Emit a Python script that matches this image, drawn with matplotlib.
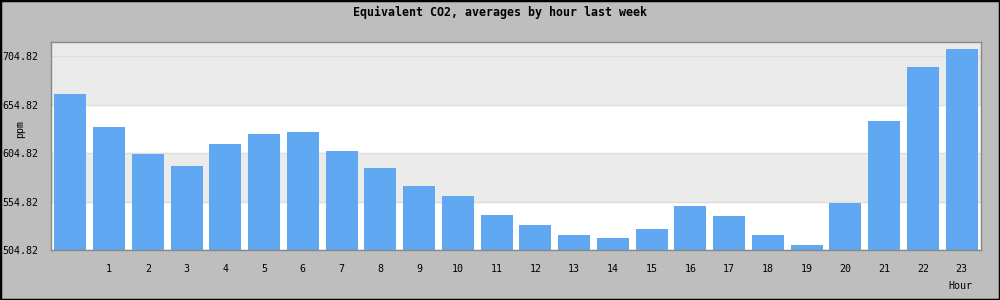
import numpy as np
import matplotlib.pyplot as plt
from matplotlib.patches import Rectangle

hours = list(range(24))
co2 = [666.2, 632.4, 604.5, 591.7, 614.5, 624.8, 626.9, 607.3,
       589.7, 571.0, 560.7, 541.0, 530.7, 520.3, 517.2, 526.5,
       550.3, 540.0, 520.3, 510.0, 553.4, 638.3, 694.2, 712.8]
xlabels = [""] + [str(h) for h in hours[1:]]
yticks = [504.82, 554.82, 604.82, 654.82, 704.82]

mono = "DejaVu Sans Mono"

fig = plt.figure(figsize=(10, 3), dpi=100, facecolor="#bebebe")
ax = fig.add_axes([0.051, 0.1667, 0.930, 0.6933])
ax.set_facecolor("white")

ymin, ymax = 504.82, 719.8
ax.axhspan(554.82, 604.82, color="#ebebeb", zorder=0)
ax.axhspan(654.82, ymax, color="#ebebeb", zorder=0)
for y in yticks:
    ax.axhline(y, color="#dedede", lw=1, zorder=1)

ax.bar(hours, co2, width=0.83, color="#60a8f2", zorder=2)

ax.set_xlim(-0.5, 23.5)
ax.set_ylim(ymin, ymax)
ax.set_xticks(hours)
ax.set_xticklabels(xlabels, fontfamily=mono, fontsize=7.2)
ax.set_yticks(yticks)
ax.set_yticklabels(["%.2f" % v for v in yticks], fontfamily=mono, fontsize=7.2)
ax.tick_params(axis="x", length=0, pad=10)
ax.tick_params(axis="y", length=0, pad=9)

for s in ax.spines.values():
    s.set_color("#888888")
    s.set_linewidth(1)

fig.text(0.5, 0.957, "Equivalent CO2, averages by hour last week",
         ha="center", va="center", fontfamily=mono, fontsize=8.4, fontweight="bold")
fig.text(0.96, 0.047, "Hour", ha="center", va="center", fontfamily=mono, fontsize=7.2)
# ppm sits just above the 604.82 label so the two do not collide
fig.text(0.02, 0.57, "ppm", ha="center", va="center", rotation=90,
         fontfamily=mono, fontsize=7.2)

fig.patches.append(Rectangle((0, 0), 1, 1, transform=fig.transFigure,
                             fill=False, edgecolor="black", lw=2.5))

fig.savefig("out.png", dpi=100, facecolor=fig.get_facecolor())
